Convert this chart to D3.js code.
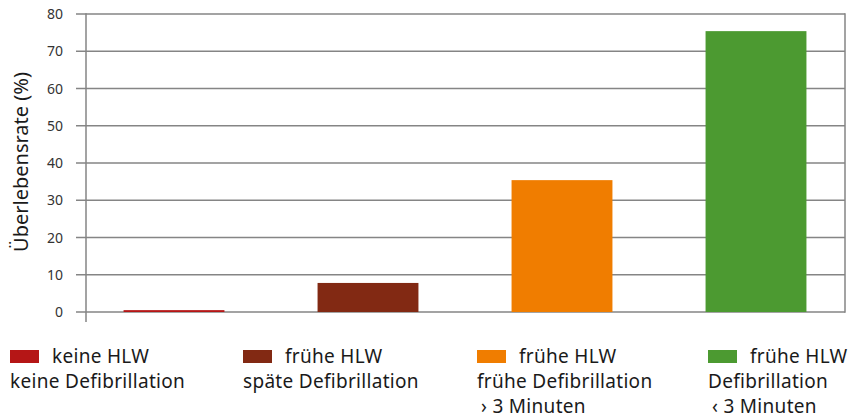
<!DOCTYPE html>
<html>
<head>
<meta charset="utf-8">
<script src="https://cdn.jsdelivr.net/npm/d3@7"></script>
<style>
  body { margin: 0; background: #fff; }
  text { font-family: "Noto Sans", "Open Sans", sans-serif; fill: #1a1a1a; }
</style>
</head>
<body>
<svg id="chart" width="854" height="420"></svg>
<script>
// survival rate (%) per group
var groups = ['keine', 'spaet', 'frueh3plus', 'frueh3minus'];
var rates = [0.5, 7.8, 35.4, 75.4];
var colors = ['#b51616', '#822913', '#f07d00', '#4c9a31'];
var legendLines = [
    ['keine HLW', 'keine Defibrillation'],
    ['frühe HLW', 'späte Defibrillation'],
    ['frühe HLW', 'frühe Defibrillation', '\u203A 3 Minuten'],
    ['frühe HLW', 'Defibrillation', '\u2039 3 Minuten']
];
var yTicks = [0, 10, 20, 30, 40, 50, 60, 70, 80];

var svg = d3.select('#chart');

var plotLeft = 86,
    plotRight = 845,
    plotTop = 14,
    plotBottom = 312;

var x = d3.scaleBand()
    .domain(groups)
    .range([77, 853])
    .paddingInner(0.48)
    .paddingOuter(0.24);

var y = d3.scaleLinear()
    .domain([0, 80])
    .range([plotBottom, plotTop]);

// gridlines with ticks sticking out left of the axis
svg.append('g').selectAll('line.grid')
    .data(yTicks)
    .enter().append('line')
    .attr('class', 'grid')
    .attr('x1', plotLeft - 10)
    .attr('x2', plotRight)
    .attr('y1', function(d) { return y(d); })
    .attr('y2', function(d) { return y(d); })
    .style('stroke', '#858585')
    .style('stroke-width', 1.5);

// right frame + y axis line
svg.append('line')
    .attr('x1', plotRight).attr('x2', plotRight)
    .attr('y1', plotTop - 0.75).attr('y2', plotBottom + 0.75)
    .style('stroke', '#858585').style('stroke-width', 1.5);
svg.append('line')
    .attr('x1', plotLeft).attr('x2', plotLeft)
    .attr('y1', plotTop - 0.75).attr('y2', plotBottom + 10)
    .style('stroke', '#858585').style('stroke-width', 1.5);

// bars
svg.append('g').selectAll('rect.bar')
    .data(rates)
    .enter().append('rect')
    .attr('class', 'bar')
    .attr('x', function(d, i) { return x(groups[i]); })
    .attr('width', x.bandwidth())
    .attr('y', function(d) { return y(d); })
    .attr('height', function(d) { return y(0) - y(d); })
    .style('fill', function(d, i) { return colors[i]; });

// tick labels
svg.append('g').selectAll('text.tick')
    .data(yTicks)
    .enter().append('text')
    .attr('class', 'tick')
    .attr('x', 63)
    .attr('y', function(d) { return y(d); })
    .attr('dy', '0.36em')
    .attr('text-anchor', 'end')
    .style('font-size', '14px')
    .style('fill', '#333')
    .text(function(d) { return d; });

// y axis title
svg.append('text')
    .attr('transform', 'translate(28,162) rotate(-90)')
    .attr('text-anchor', 'middle')
    .style('font-size', '20px')
    .text('Überlebensrate (%)');

// legend
var legendX = [10, 243, 477, 708];
var legend = svg.append('g').selectAll('g.legend')
    .data(legendLines)
    .enter().append('g')
    .attr('class', 'legend')
    .attr('transform', function(d, i) { return 'translate(' + legendX[i] + ',0)'; });

legend.append('rect')
    .attr('x', 0).attr('y', 350)
    .attr('width', 29).attr('height', 13)
    .style('fill', function(d, i) { return colors[i]; });

legend.each(function(lines) {
    var g = d3.select(this);
    lines.forEach(function(line, j) {
        g.append('text')
            .attr('x', j === 0 ? 42 : (j === 2 ? 4 : 0))
            .attr('y', 363 + j * 25)
            .style('font-size', '19px')
            .style('letter-spacing', '0.3px')
            .text(line);
    });
});
</script>
</body>
</html>
